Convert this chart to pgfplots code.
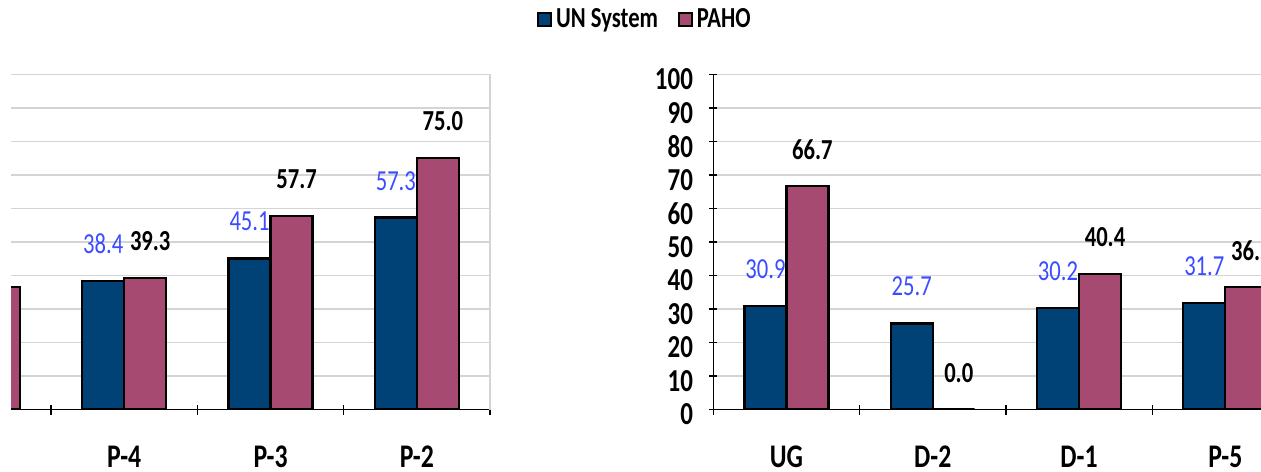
\documentclass[border=0pt]{standalone}
\usepackage{fontspec}
\setmainfont{Carlito}[FakeStretch=0.78]
\usepackage{pgfplots}
\pgfplotsset{compat=1.18}
\definecolor{unblue}{HTML}{004275}
\definecolor{paho}{HTML}{A64A72}
\definecolor{lblblue}{HTML}{3A4CFF}
\definecolor{gridgray}{HTML}{D4D4D4}
\pgfkeys{/pgf/number format/assume math mode=true}
\pgfplotsset{
  panel/.style={
    scale only axis, height=167.5pt,
    ymin=0, ymax=100, ytick={0,10,...,100},
    ymajorgrids, grid style={draw=gridgray, line width=0.7pt},
    ybar=0pt, bar width=0.287,
    xtick={0,...,6}, xticklabels={UG,D-2,D-1,P-5,P-4,P-3,P-2},
    minor xtick={-0.5,0.5,...,6.5},
    tick align=outside,
    every major x tick/.append style={draw=none},
    major tick length=4pt, minor tick length=5pt,
    tick style={black, line width=0.65pt},
    axis x line=bottom,
    xticklabel style={font=\bfseries\fontsize{16.5}{16.5}\selectfont, anchor=center, inner sep=0pt, yshift=-21.5pt},
    clip=true,
  },
  lblfmt/.style={nodes near coords={\pgfmathprintnumber[fixed,fixed zerofill,precision=1]{\pgfplotspointmeta}}},
  unbars/.style={fill=unblue, draw=black, line width=1.1pt, lblfmt,
    every node near coord/.append style={text=lblblue, font=\fontsize{14.5}{14.5}\selectfont, anchor=center, yshift=18.4pt},
    legend image code/.code={\draw[fill=unblue, draw=black, line width=0.9pt] (0pt,-3.25pt) rectangle (6.5pt,3.25pt);}},
  pahobars/.style={fill=paho, draw=black, line width=1.1pt, lblfmt,
    every node near coord/.append style={text=black, font=\bfseries\fontsize{14.5}{14.5}\selectfont, anchor=center, yshift=18.4pt, xshift=2.5pt},
    legend image code/.code={\draw[fill=paho, draw=black, line width=0.9pt] (0pt,-3.25pt) rectangle (6.5pt,3.25pt);}},
}
\begin{document}
\begin{tikzpicture}
\useasboundingbox (0,0) rectangle (630.5pt,235.5pt);
\clip (0,0) rectangle (630.5pt,235.5pt);
% left panel (P-5 ... P-2)
\begin{axis}[panel, at={(5.5pt,30.75pt)}, anchor=south west, width=239.5pt,
  xmin=3.226, xmax=6.5,
  axis y line=right,
  x axis line style={-, line width=0.65pt, black},
  y axis line style={-, draw=gridgray, line width=0.9pt},
  yticklabels={}, every major y tick/.append style={draw=none}]
\addplot[unbars] coordinates {(3,31.7) (4,38.4) (5,45.1) (6,57.3)};
\addplot[pahobars] coordinates {(3,36.5) (4,39.3) (5,57.7) (6,75.0)};
\end{axis}
% right panel (UG ... P-5)
\begin{axis}[panel, at={(356.65pt,30.75pt)}, anchor=south west, width=273.85pt,
  xmin=-0.5, xmax=3.244,
  axis y line=left,
  x axis line style={-, line width=0.65pt, black},
  y axis line style={-, line width=0.65pt, black},
  yticklabel style={font=\bfseries\fontsize{16}{16}\selectfont, anchor=east, inner sep=0pt, xshift=-8pt, yshift=-2.5pt},
  legend style={at={(-0.322,1.163)}, anchor=west, draw=none, fill=none, inner sep=0pt,
    font=\bfseries\fontsize{14.5}{14.5}\selectfont, /tikz/every even column/.append style={column sep=8pt}},
  legend columns=2, legend cell align=left]
\addplot[unbars] coordinates {(0,30.9) (1,25.7) (2,30.2) (3,31.7)};
\addlegendentry{UN System}
\addplot[pahobars] coordinates {(0,66.7) (1,0.0) (2,40.4) (3,36.5)};
\addlegendentry{PAHO}
\end{axis}
\end{tikzpicture}
\end{document}
